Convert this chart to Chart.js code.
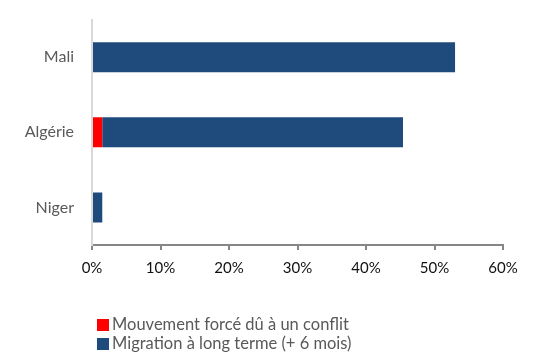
<!DOCTYPE html>
<html>
<head>
<meta charset="utf-8">
<script src="https://cdn.jsdelivr.net/npm/chart.js@4"></script>
<style>
  body { margin: 0; background: #fff; }
  #wrap { position: relative; width: 541px; height: 362px; }
  #legend { position: absolute; left: 97px; top: 315px; font: 16.5px Lato, sans-serif; color: #595959; }
  #legend div { height: 19px; line-height: 19px; white-space: nowrap; }
  #legend span { display: inline-block; width: 12px; height: 12px; margin-right: 3px; vertical-align: -1px; }
</style>
</head>
<body>
<div id="wrap">
  <canvas id="myChart" width="541" height="362"></canvas>
  <div id="legend"></div>
</div>
<script>
const countries = ['Mali', 'Algérie', 'Niger'];
const forcedConflict = [0, 1.5, 0];
const longTerm = [53.0, 43.9, 1.5];

const ctx = document.getElementById('myChart').getContext('2d');
const myChart = new Chart(ctx, {
    type: 'bar',
    data: {
        labels: countries,
        datasets: [{
            label: 'Mouvement forcé dû à un conflit',
            data: forcedConflict,
            backgroundColor: '#ff0000',
            barPercentage: 0.4,
            categoryPercentage: 1
        },
        {
            label: 'Migration à long terme (+ 6 mois)',
            data: longTerm,
            backgroundColor: '#1f4a7c',
            barPercentage: 0.4,
            categoryPercentage: 1
        }]
    },
    options: {
        indexAxis: 'y',
        responsive: false,
        animation: false,
        layout: { padding: { top: 8, right: 38, bottom: 82, left: 0 } },
        plugins: {
            legend: { display: false },
            tooltip: { enabled: false }
        },
        scales: {
            x: {
                stacked: true,
                min: 0,
                max: 60,
                afterFit: (scale) => { scale.height = 35; },
                border: { color: '#868686', width: 2 },
                grid: { drawOnChartArea: false, drawTicks: true, tickLength: 5, color: '#868686', lineWidth: 2 },
                ticks: {
                    stepSize: 10,
                    padding: 9,
                    color: '#111',
                    font: { family: 'Lato', size: 15 },
                    callback: (v) => v + '%'
                }
            },
            y: {
                stacked: true,
                afterFit: (scale) => { scale.width = 92; },
                border: { color: '#d9d9d9', width: 2 },
                grid: { display: false },
                ticks: {
                    padding: 10,
                    color: '#595959',
                    font: { family: 'Lato', size: 16 }
                }
            }
        }
    }
});

const legend = document.getElementById('legend');
myChart.data.datasets.forEach((ds) => {
    const row = document.createElement('div');
    const box = document.createElement('span');
    box.style.background = ds.backgroundColor;
    row.appendChild(box);
    row.appendChild(document.createTextNode(ds.label));
    legend.appendChild(row);
});
</script>
</body>
</html>
